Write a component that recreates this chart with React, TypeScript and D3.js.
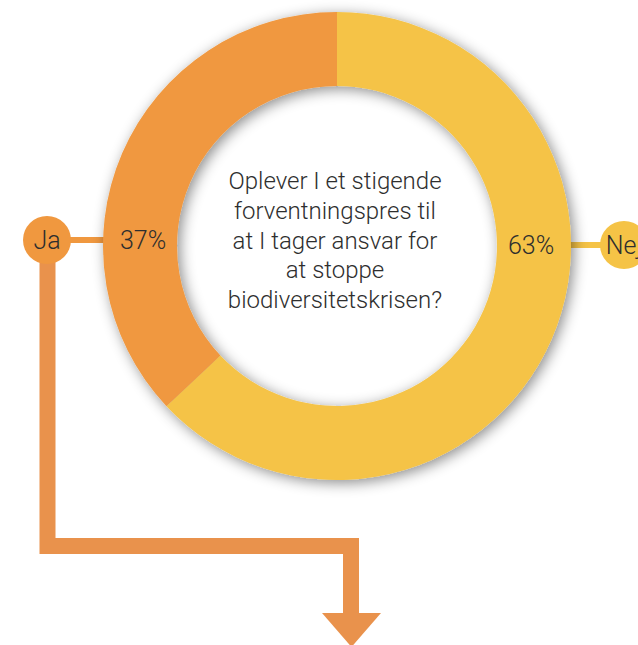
import React from "react";
import * as d3 from "d3";

const categories = ["Nej", "Ja"];
const values = [63, 37];
const percentLabels = ["63%", "37%"];
const colors = ["#F5C346", "#F0983F"];
const questionLines = [
  "Oplever I et stigende",
  "forventningspres til",
  "at I tager ansvar for",
  "at stoppe",
  "biodiversitetskrisen?",
];

const W = 638;
const H = 645;
const cx = 337;
const cy = 246;
const rOuter = 234;
const rInner = 160;

export default function App() {
  const pie = d3
    .pie<number>()
    .sort(null)
    .startAngle(0)
    .endAngle(2 * Math.PI)
    .value((d) => d);
  const arcs = pie(values);
  const arc = d3.arc<d3.PieArcDatum<number>>().innerRadius(rInner).outerRadius(rOuter);
  const rMid = (rInner + rOuter) / 2;

  const jaY = 240;
  const nejY = 245;
  const jaX = 47;
  const nejX = 624;
  const bubbleR = 24;

  const font = "Roboto, 'DejaVu Sans', sans-serif";
  const textColor = "#2e2e2e";

  const line = d3.line();
  const pathPts: [number, number][] = [
    [jaX + 0.5, jaY + 10],
    [jaX + 0.5, 546],
    [351, 546],
    [351, 616],
  ];

  return (
    <svg
      width={W}
      height={H}
      style={{ position: "absolute", left: 0, top: 0, background: "#fff" }}
    >
      <defs>
        <filter id="sh" x="-20%" y="-20%" width="140%" height="140%">
          <feDropShadow dx="3" dy="3" stdDeviation="7" floodColor="#000" floodOpacity="0.45" />
        </filter>
      </defs>

      {/* flow arrow from Ja */}
      <path
        d={line(pathPts) || ""}
        fill="none"
        stroke="#E9924C"
        strokeWidth={16}
        strokeLinejoin="miter"
      />
      <path d={`M322,613 L381,613 L351.5,647 Z`} fill="#E9924C" />

      {/* callout lines */}
      <line x1={jaX} x2={cx - rOuter + 2} y1={jaY} y2={jaY} stroke={colors[1]} strokeWidth={6} />
      <line x1={cx + rOuter - 2} x2={nejX} y1={nejY} y2={nejY} stroke={colors[0]} strokeWidth={6} />

      {/* donut */}
      <g transform={`translate(${cx},${cy})`} filter="url(#sh)">
        {arcs.map((a, i) => (
          <path key={categories[i]} d={arc(a) || ""} fill={colors[i]} />
        ))}
      </g>

      {/* percent labels */}
      <text
        x={cx - rMid + 3}
        y={jaY}
        dy="0.35em"
        textAnchor="middle"
        fontFamily={font}
        fontWeight={300}
        fontSize={25}
        fill={textColor}
      >
        {percentLabels[1]}
      </text>
      <text
        x={cx + rMid - 3}
        y={nejY}
        dy="0.35em"
        textAnchor="middle"
        fontFamily={font}
        fontWeight={300}
        fontSize={25}
        fill={textColor}
      >
        {percentLabels[0]}
      </text>

      {/* bubbles */}
      <circle cx={jaX} cy={jaY} r={bubbleR} fill={colors[1]} />
      <text
        x={jaX}
        y={jaY}
        dy="0.35em"
        textAnchor="middle"
        fontFamily={font}
        fontWeight={300}
        fontSize={25}
        fill={textColor}
      >
        {categories[1]}
      </text>
      <circle cx={nejX} cy={nejY} r={bubbleR} fill={colors[0]} />
      <text
        x={nejX}
        y={nejY}
        dy="0.35em"
        textAnchor="middle"
        fontFamily={font}
        fontWeight={300}
        fontSize={25}
        fill={textColor}
      >
        {categories[0]}
      </text>

      {/* question */}
      {questionLines.map((t, i) => (
        <text
          key={i}
          x={335}
          y={189 + i * 29.8}
          textAnchor="middle"
          fontFamily={font}
          fontWeight={300}
          fontSize={24}
          fill={textColor}
        >
          {t}
        </text>
      ))}
    </svg>
  );
}
